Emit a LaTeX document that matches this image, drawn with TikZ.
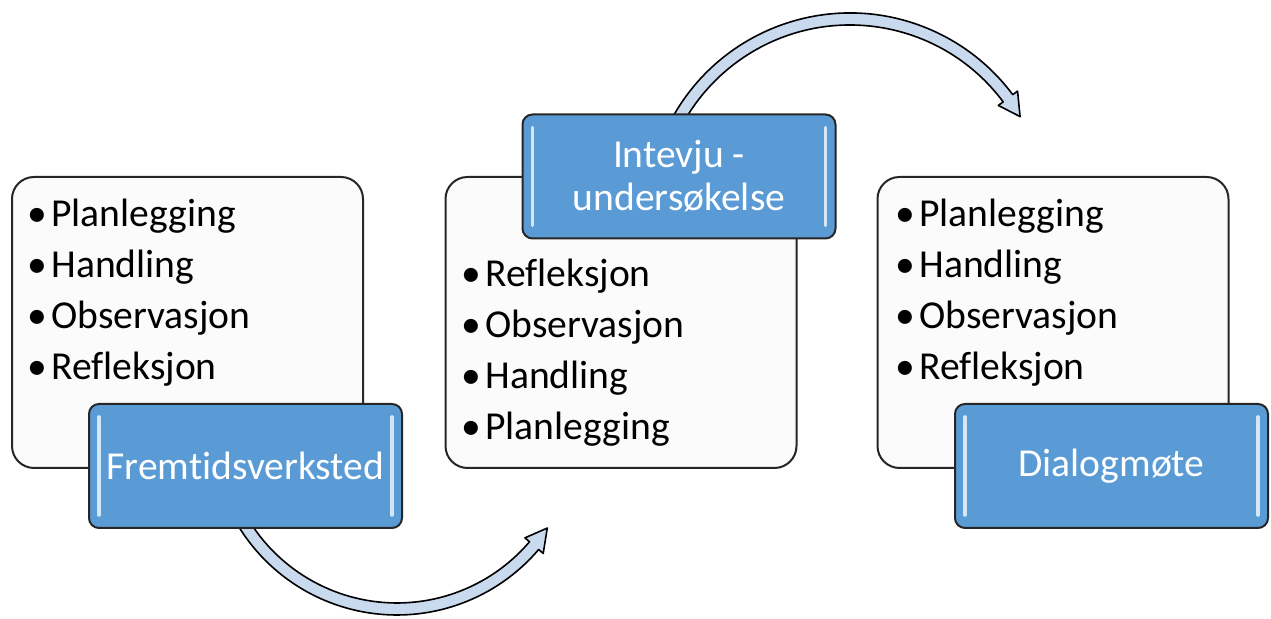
\documentclass[tikz,border=0pt]{standalone}
\usepackage{fontspec}
\setmainfont[Ligatures=NoCommon]{Carlito}

\definecolor{tagblue}{HTML}{5B9BD5}
\definecolor{tagshine}{HTML}{D4E7F8}
\definecolor{arrowfill}{HTML}{C9D9EE}
\definecolor{stagefill}{HTML}{FBFBFB}
\newcommand{\bul}{\makebox[12pt][l]{\textbullet}}

\tikzset{
  stage/.style={draw=black!85, line width=1pt, rounded corners=11pt, fill=stagefill,
    minimum width=175.5pt, minimum height=145.5pt},
  tag/.style={draw=black!85, line width=1pt, rounded corners=5pt, fill=tagblue,
    minimum width=156.5pt, minimum height=62pt, text=white, align=center,
    font=\fontsize{19.8}{21.5}\selectfont},
  item/.style={anchor=base west, inner sep=0pt, font=\fontsize{19.8}{22}\selectfont},
  shine/.style={draw=tagshine, line width=1.8pt, line cap=round},
  bend arrow/.style={fill=arrowfill, draw=black, line width=0.8pt, line join=round}
}

\begin{document}
\begin{tikzpicture}[x=0.5pt,y=0.5pt]
\useasboundingbox (0,0) rectangle (1271,619);

% white boxes
\node[stage] (s1) at (187.5,296.5) {};
\node[stage] (s2) at (621,296.5) {};
\node[stage] (s3) at (1053,296.5) {};

% bullet lists
\foreach \w [count=\i] in {Planlegging,Handling,Observasjon,Refleksjon}
  \node[item] (a\i) at (27,443-51*\i) {\bul\w};
\foreach \w [count=\i] in {Refleksjon,Observasjon,Handling,Planlegging}
  \node[item] (b\i) at (461,383-51*\i) {\bul\w};
\foreach \w [count=\i] in {Planlegging,Handling,Observasjon,Refleksjon}
  \node[item] (c\i) at (895,443-51*\i) {\bul\w};

% curved arrows
\begin{scope}[shift={(397,190)}]
\draw[bend arrow] (210:186) arc[start angle=210, end angle=319.6, radius=186]
  -- (319.6:192) -- (326.6:180) -- (319.6:168) -- (319.6:174)
  arc[start angle=319.6, end angle=210, radius=174] -- cycle;
\end{scope}
\begin{scope}[shift={(850,403)}]
\draw[bend arrow] (155:203) arc[start angle=155, end angle=36.7, radius=203]
  -- (36.7:209) -- (30.3:197) -- (36.7:185) -- (36.7:191)
  arc[start angle=36.7, end angle=155, radius=191] -- cycle;
\end{scope}

% blue labels
\node[tag] (t1) at (245.5,153) {Fremtidsverksted};
\node[tag] (t2) at (679,442.5) {Intevju -\\undersøkelse};
\node[tag] (t3) at (1111.5,153) {Dialogmøte};
\foreach \t in {t1,t2,t3} {
  \draw[shine] ([xshift=5.5pt,yshift=-7pt]\t.north west) -- ([xshift=5.5pt,yshift=7pt]\t.south west);
  \draw[shine] ([xshift=-5.5pt,yshift=-7pt]\t.north east) -- ([xshift=-5.5pt,yshift=7pt]\t.south east);
}
\end{tikzpicture}
\end{document}
